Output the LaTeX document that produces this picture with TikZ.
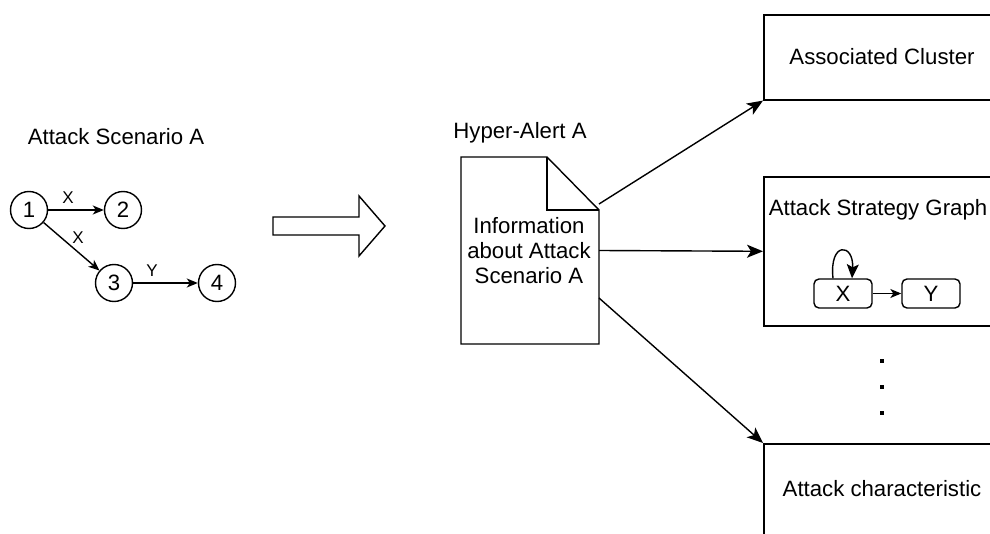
\documentclass[tikz,border=0pt]{standalone}
\usepackage{fontspec}
\setmainfont{Liberation Sans}
\usetikzlibrary{arrows.meta}
\begin{document}
\begin{tikzpicture}[x=1pt,y=-1pt,line width=1.4pt,
  txt/.style={font=\fontsize{22.2}{25}\selectfont},
  lbl/.style={font=\fontsize{17}{19}\selectfont},
  state/.style={circle,draw,minimum size=37pt,inner sep=0pt,txt},
  panel/.style={draw,rectangle,anchor=north west,minimum width=240pt,inner sep=0pt,line width=1.6pt,txt},
  mini/.style={draw,rectangle,rounded corners=5pt,minimum width=58pt,minimum height=29pt,inner sep=0pt,txt},
  bigarr/.style={-{Stealth[length=16pt,width=13pt,inset=4pt]}},
  smallarr/.style={-{Stealth[length=11pt,width=9pt,inset=3pt]}},
]
\useasboundingbox (0,0) rectangle (990,534);
\clip (0,0) rectangle (990,534);

% attack scenario graph
\node[txt] (title) at (116,137) {Attack Scenario A};
\node[state] (n1) at (29,210) {1};
\node[state] (n2) at (123,210) {2};
\node[state] (n3) at (114,283) {3};
\node[state] (n4) at (217,283) {4};
\draw[smallarr] (n1) -- (n2);
\draw[smallarr] (n1) -- (n3);
\draw[smallarr] (n3) -- (n4);
\node[lbl] (l12) at (68,198) {X};
\node[lbl] (l13) at (78,238) {X};
\node[lbl] (l34) at (152,271) {Y};

% transformation arrow
\draw (273,217) -- (359,217) -- (359,196) -- (385,226) -- (359,256) -- (359,235) -- (273,235) -- cycle;

% hyper-alert document
\node[txt] (hyper) at (520,133) {Hyper-Alert A};
\node[txt,align=center,minimum width=138pt,minimum height=187pt,inner sep=0pt] (doc) at (529,250.5)
  {Information\\about Attack\\Scenario A};
\draw (461,157) -- (547,157) -- (599,210) -- (599,344) -- (461,344) -- cycle;
\draw (547,157) -- (547,210) -- (599,210);
\coordinate (d1) at (599,204);
\coordinate (d2) at (599,250.5);
\coordinate (d3) at (599,298);

% output panels
\node[panel,minimum height=85pt] (cluster) at (763,14) {};
\node[txt] (clustert) at (882,57) {Associated Cluster};
\node[panel,minimum height=149pt] (asg) at (763,176) {};
\node[txt] (asgt) at (878,210) {Attack Strategy Graph};
\node[mini] (xb) at (843,293.5) {X};
\node[mini] (yb) at (931,293.5) {Y};
\draw[smallarr] (xb) -- (yb);
\draw[-{Stealth[length=14pt,width=12pt,inset=3pt]}] ([xshift=-10pt]xb.north) .. controls (829,241) and (854,243) .. ([xshift=9pt]xb.north);
\node[panel,minimum height=93pt] (charac) at (763,443) {};
\node[txt] (charact) at (882,489) {Attack characteristic};

\foreach \yy in {361,387,413} \fill (880,\yy-2) rectangle (884,\yy+2);

\draw[bigarr] (d1) -- (cluster.south west);
\draw[bigarr] (d2) -- (asg.west);
\draw[bigarr] (d3) -- (charac.north west);
\end{tikzpicture}
\end{document}
